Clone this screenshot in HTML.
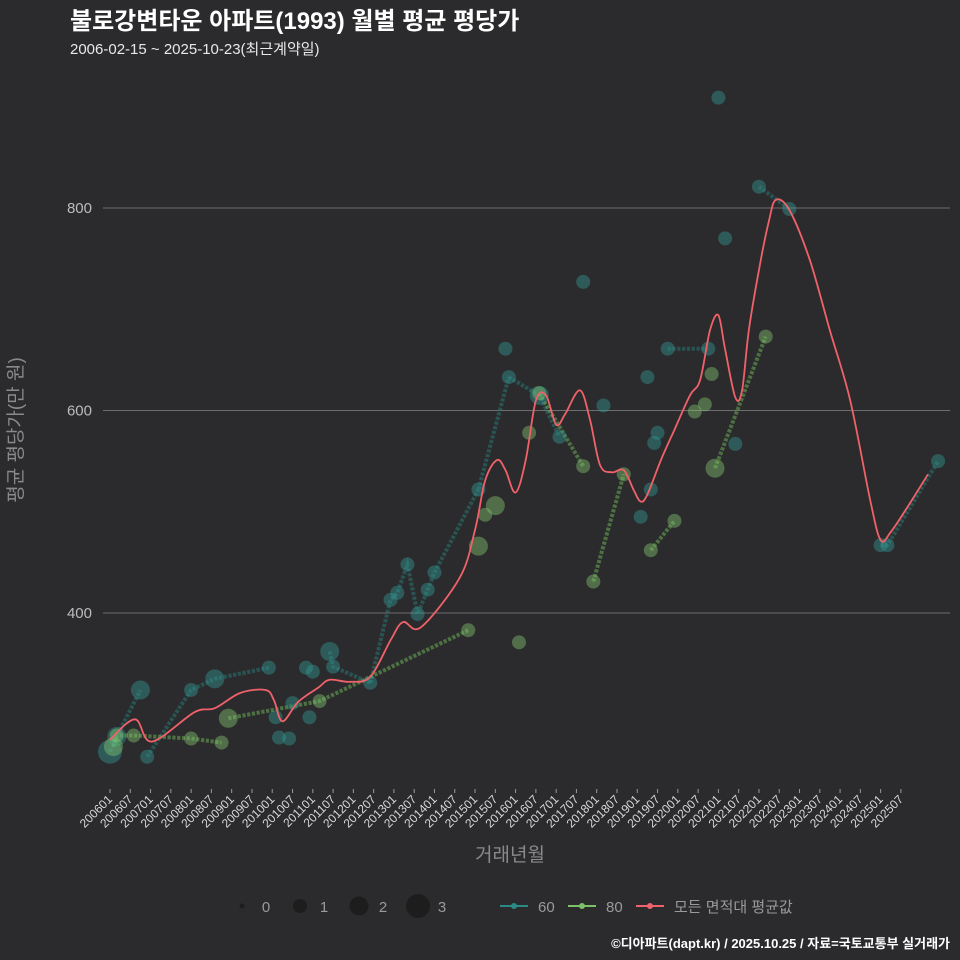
<!DOCTYPE html>
<html><head><meta charset="utf-8">
<style>
html,body{margin:0;padding:0;background:#2b2b2d;}
svg{display:block;font-family:"Liberation Sans","Noto Sans CJK KR",sans-serif;}
</style></head>
<body>
<svg id="chart" width="960" height="960" viewBox="0 0 960 960">
<rect x="0" y="0" width="960" height="960" fill="#2b2b2d"/>
<text x="70" y="29" fill="#ffffff" font-size="24" font-weight="bold">불로강변타운 아파트(1993) 월별 평균 평당가</text>
<text x="70" y="54" fill="#e8e8e8" font-size="15">2006-02-15 ~ 2025-10-23(최근계약일)</text>
<text transform="translate(22,430) rotate(-90)" text-anchor="middle" fill="#8a8a8a" font-size="19">평균 평당가(만 원)</text>
<text x="510" y="861" text-anchor="middle" fill="#8a8a8a" font-size="19">거래년월</text>
<g id="grid"></g>
<g id="xaxis"></g>
<g id="series"></g>
<g id="legend"></g>
<text x="950" y="948" text-anchor="end" fill="#ffffff" font-size="13" font-weight="bold">©디아파트(dapt.kr) / 2025.10.25 / 자료=국토교통부 실거래가</text>
</svg>
<script>
// months since 2006-01
const yTicks = [400, 600, 800];
const xTickLabels = ["200601","200607","200701","200707","200801","200807","200901","200907","201001","201007","201101","201107","201201","201207","201301","201307","201401","201407","201501","201507","201601","201607","201701","201707","201801","201807","201901","201907","202001","202007","202101","202107","202201","202207","202301","202307","202401","202407","202501","202507"];

const s60Months = [0,2,9,11,24,31,47,49,50,53,54,58,59,60,65,66,77,83,85,88,91,94,96,109,117,118,127,133,140,146,157,159,160,161,162,165,177,180,182,185,192,201,228,230,245];
const s60Values = [263,278,324,258,324,335,346,297,277,276,311,346,297,342,362,347,331,413,420,448,399,423,440,522,661,633,615,574,727,605,495,633,522,568,578,661,661,909,770,567,821,799,467,467,550];
const s60Counts = [3,2,2,1,1,2,1,1,1,1,1,1,1,1,2,1,1,1,1,1,1,1,1,1,1,1,2,1,1,1,1,1,1,1,1,1,1,1,1,1,1,1,1,1,1];
const s60Runs = [[0,1,2],[3,4,5,6],[14,15,16],[16,17,18,19,20,21,22,23],[23,25],[25,26,27],[35,36],[40,41],[42,43,44]];

const s80Months = [1,2,7,24,33,35,62,106,109,111,114,121,124,127,140,143,152,160,167,173,176,178,179,194];
const s80Values = [268,279,279,276,272,296,313,383,466,497,506,371,578,617,545,431,537,462,491,599,606,636,543,673];
const s80Counts = [2,1,1,1,1,2,1,1,2,1,2,1,1,1,1,1,1,1,1,1,1,1,2,1];
const s80Runs = [[0,1,2,3,4],[5,6,7],[13,14],[15,16],[17,18],[22,23]];

const avgMonths = [0,7.4,12.4,25,31,38.5,46,48.5,51,55.6,61.5,65,71,77,83,86.7,92,103.5,108,111,114.5,117,120,123,126,129,132,134.6,139,142,145,148.5,152,155,157,159,163,167,171.6,174.6,177.5,180,182,185,187,189,192,195,197,201,207,213,219,225,228,231,236,242];
const avgValues = [275,295,273,302,306,321,324,314,293,312,326,334,332,337,373,391,386,435,482,531,551,541,519,551,610,615,586,596,620,591,546,539,541,521,510,517,551,581,615,630,679,694,660,613,620,679,739,788,808,798,749,679,610,510,472,480,505,537];

function xs(m){ return 110 + m*3.38; }
function ys(v){ return 208 + (800 - v)*1.0125; }
function rs(c){ return [2.5,7,9.5,12][c]; }
const NS="http://www.w3.org/2000/svg";
function mk(tag, attrs, parent){ const e=document.createElementNS(NS,tag); for(const k in attrs) e.setAttribute(k,attrs[k]); parent.appendChild(e); return e; }

const grid=document.getElementById('grid');
yTicks.forEach(v=>{
  const l=mk('line',{x1:103,x2:950,y1:ys(v),y2:ys(v),stroke:'#6e6e6e','stroke-width':1},grid);
  
  
  const t=mk('text',{x:92,y:ys(v)+5,'text-anchor':'end',fill:'#bcbcbc','font-size':15},grid);
  t.textContent=v;
  
  
});
const xa=document.getElementById('xaxis');
xTickLabels.forEach((lab,i)=>{
  const x=xs(i*6);
  const tk=mk('line',{x1:x,x2:x,y1:789,y2:793,stroke:'#9a9a9a','stroke-width':1},xa);
  
  
  const t=mk('text',{transform:`translate(${x+3},${800}) rotate(-45)`,'text-anchor':'end',fill:'#d8d8d8','font-size':12},xa);
  t.textContent=lab;
  
  
});

const sg=document.getElementById('series');
function dotted(months, values, runs, color, name){
  runs.forEach((run,ri)=>{
    let d='';
    run.forEach((idx,i)=>{ d+=(i?'L':'M')+xs(months[idx]).toFixed(1)+','+ys(values[idx]).toFixed(1); });
    const p=mk('path',{d:d,fill:'none',stroke:color,'stroke-width':4,'stroke-dasharray':'3.2 1.6','stroke-opacity':0.5},sg);
    
    
  });
}
function pts(months, values, counts, color, name){
  months.forEach((m,i)=>{
    const c=mk('circle',{cx:xs(m),cy:ys(values[i]),r:rs(counts[i]),fill:color,'fill-opacity':0.42},sg);
    
    
  });
}
dotted(s60Months,s60Values,s60Runs,'#2a7d7a','series-60-line');
dotted(s80Months,s80Values,s80Runs,'#6fb85a','series-80-line');
pts(s60Months,s60Values,s60Counts,'#339a95','series-60');
pts(s80Months,s80Values,s80Counts,'#86c870','series-80');

// smooth average line (Catmull-Rom)
const P=avgMonths.map((m,i)=>[xs(m),ys(avgValues[i])]);
let d='M'+P[0][0].toFixed(1)+','+P[0][1].toFixed(1);
for(let i=0;i<P.length-1;i++){
  const p0=P[i-1]||P[i], p1=P[i], p2=P[i+1], p3=P[i+2]||P[i+1];
  const c1=[p1[0]+(p2[0]-p0[0])/6, p1[1]+(p2[1]-p0[1])/6];
  const c2=[p2[0]-(p3[0]-p1[0])/6, p2[1]-(p3[1]-p1[1])/6];
  d+=`C${c1[0].toFixed(1)},${c1[1].toFixed(1)} ${c2[0].toFixed(1)},${c2[1].toFixed(1)} ${p2[0].toFixed(1)},${p2[1].toFixed(1)}`;
}
const al=mk('path',{d:d,fill:'none',stroke:'#f0626a','stroke-width':1.8,'stroke-linejoin':'round'},sg);



const lg=document.getElementById('legend');
[[242,0,'0'],[300,1,'1'],[359,2,'2'],[418,3,'3']].forEach(([x,c,lab])=>{
  const ci=mk('circle',{cx:x,cy:906,r:rs(c),fill:'#1a1a1a','fill-opacity':0.8},lg);
  
  
  const t=mk('text',{x:x+24,y:912,'text-anchor':'middle',fill:'#9a9a9a','font-size':15},lg);
  t.textContent=lab;
  
  
});
[[500,'#2a8a86','60'],[568,'#7cc068','80'],[636,'#f0626a','모든 면적대 평균값']].forEach(([x,col,lab])=>{
  const l=mk('line',{x1:x,x2:x+28,y1:906,y2:906,stroke:col,'stroke-width':2},lg);
  
  
  const c=mk('circle',{cx:x+14,cy:906,r:3,fill:col},lg);
  
  
  const t=mk('text',{x:x+38,y:912,fill:'#9a9a9a','font-size':15},lg);
  t.textContent=lab;
  
  
});
</script>
</body></html>
